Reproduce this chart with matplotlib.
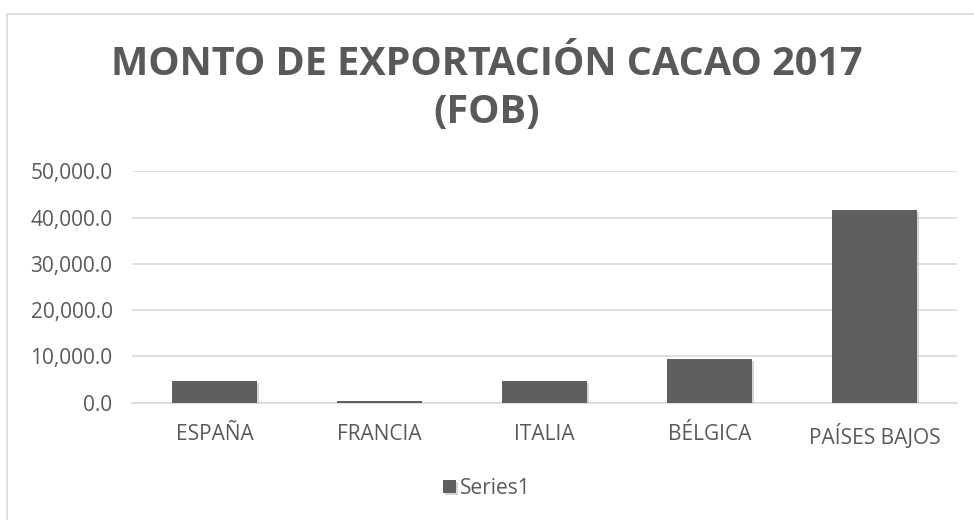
import matplotlib
matplotlib.use("Agg")
import matplotlib.pyplot as plt
import matplotlib.patheffects as pe
from matplotlib.patches import Rectangle
from matplotlib.ticker import FuncFormatter

paises = ['ESPAÑA', 'FRANCIA', 'ITALIA', 'BÉLGICA', 'PAÍSES BAJOS']
monto = [4700, 450, 4700, 9400, 41700]
serie = 'Series1'
titulo = 'MONTO DE EXPORTACIÓN CACAO 2017\n(FOB)'

gris = '#595959'
plt.rcParams['font.family'] = ['Open Sans', 'DejaVu Sans']

fig = plt.figure(figsize=(9.74, 5.2), dpi=100)
fig.patches.append(Rectangle((7 / 974, -0.1), 1.2, 1 - 14 / 520 + 0.1,
                             transform=fig.transFigure, fill=False,
                             edgecolor='#d9d9d9', linewidth=1.2))

ax = fig.add_axes([132 / 974, 1 - 402.7 / 520, 825 / 974, 231.2 / 520])
x = range(len(paises))
bars = ax.bar(x, monto, width=0.51, color='#5f5f5f', label=serie, zorder=3)
for b in bars:
    b.set_path_effects([pe.SimplePatchShadow(offset=(1.5, -1.5), shadow_rgbFace='#bbbbbb', alpha=0.6),
                        pe.Normal()])

ax.set_xlim(-0.5, len(paises) - 0.5)
ax.set_ylim(0, 50000)
ax.set_yticks(range(0, 50001, 10000))
ax.yaxis.set_major_formatter(FuncFormatter(lambda v, p: f'{v:,.1f}'))
ax.set_xticks(list(x))
ax.set_xticklabels(paises)
ax.grid(axis='y', color='#d9d9d9', linewidth=1.2, zorder=0)
for s in ['top', 'right', 'left']:
    ax.spines[s].set_visible(False)
ax.spines['bottom'].set_color('#d9d9d9')
ax.spines['bottom'].set_linewidth(1.2)
ax.tick_params(axis='both', length=0, labelsize=15, labelcolor=gris)
ax.tick_params(axis='y', pad=14)
ax.tick_params(axis='x', pad=15)

fig.text(0.5, 1 - 88 / 520, titulo, ha='center', va='center', fontsize=28.5,
         fontweight='bold', color=gris, linespacing=1.3)

fig.legend(handles=[bars], labels=[serie], loc='center', bbox_to_anchor=(487 / 974, 1 - 488 / 520),
           frameon=False, fontsize=15, labelcolor=gris, handlelength=0.6, handleheight=0.6,
           handletextpad=0.2)

fig.savefig('out.png', dpi=100)
